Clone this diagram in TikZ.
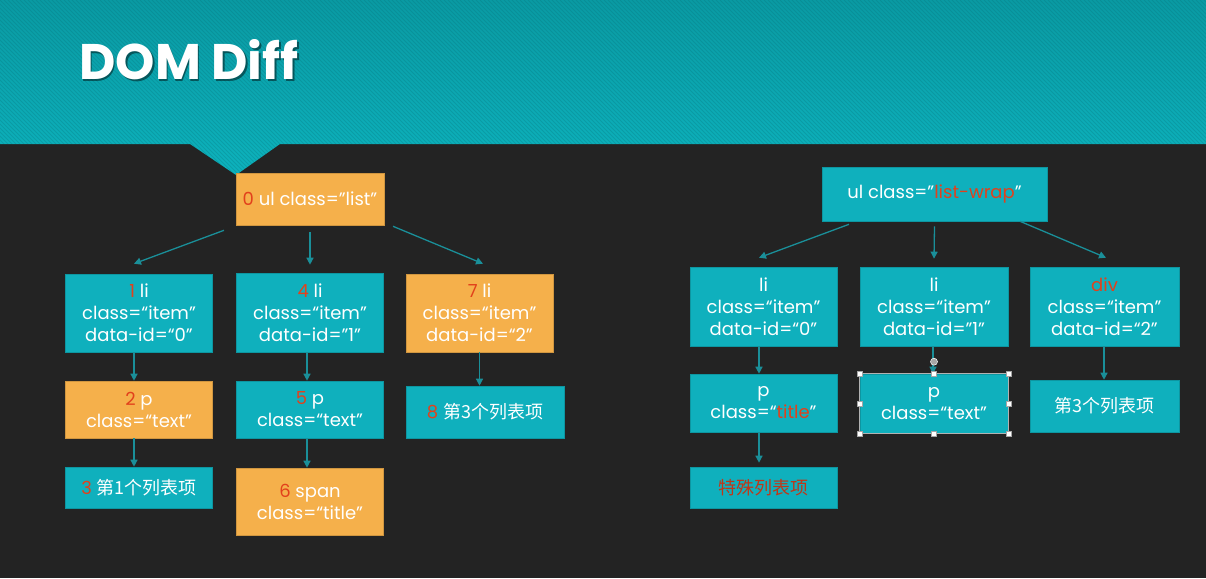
\documentclass[tikz,border=0pt]{standalone}
\usepackage{fontspec}
\setmainfont{Poppins}
\newfontfamily\cjk{Noto Sans CJK SC}
\usetikzlibrary{calc,arrows.meta}

\definecolor{bgdark}{HTML}{232323}
\definecolor{boxteal}{HTML}{0FB0BD}
\definecolor{boxorange}{HTML}{F5B04B}
\definecolor{numred}{HTML}{E2411C}
\definecolor{arrowteal}{HTML}{1A8F99}
\definecolor{bandtop}{HTML}{0A9AA3}
\definecolor{bandbot}{HTML}{0DB3BE}

\newcommand{\rednum}[1]{\textcolor{numred}{#1}}

\tikzset{
  box/.style={rectangle, inner sep=0pt, align=center, text=white,
    font=\fontsize{18}{22}\selectfont},
  tealbox/.style={box, fill=boxteal, draw=boxteal!85!black, line width=0.6pt},
  orangebox/.style={box, fill=boxorange, draw=boxorange!85!black, line width=0.6pt},
  link/.style={draw=arrowteal, line width=1.3pt,
    -{Triangle[length=7pt,width=7pt]}},
  handle/.style={draw=gray!70, fill=white, line width=0.4pt,
    minimum size=5pt, inner sep=0pt, rectangle},
}

\begin{document}
\begin{tikzpicture}[x=1pt,y=-1pt]
  % page background
  \fill[bgdark] (0,0) rectangle (1206,578);
  \useasboundingbox (0,0) rectangle (1206,578);

  % striped header band with its pointer
  \begin{scope}
    \clip (0,0) -- (1206,0) -- (1206,144) -- (280,144) -- (236,175)
      -- (190,144) -- (0,144) -- cycle;
    \shade[top color=bandtop, bottom color=bandbot] (0,0) rectangle (1206,176);
    \foreach \i in {-180,-176,...,1210}
      \draw[bandtop!70!black, opacity=0.25, line width=1pt]
        (\i,0) -- ({\i+180},180);
  \end{scope}

  % title
  \node[font=\fontsize{50}{60}\selectfont\bfseries, text=black, opacity=0.45]
    (titleshadow) at (190.5,61.5) {DOM Diff};
  \node[font=\fontsize{50}{60}\selectfont\bfseries, text=white]
    (title) at (189,60) {DOM Diff};

  % ---------- left tree ----------
  \node[orangebox, minimum width=148pt, minimum height=52pt] (n0) at (310,199)
    {\rednum{0} ul class="list"};
  \node[tealbox, minimum width=147pt, minimum height=78pt] (n1) at (139,313)
    {\rednum{1} li\\class=“item"\\data-id=“0"};
  \node[tealbox, minimum width=147pt, minimum height=79pt] (n4) at (310,312.5)
    {\rednum{4} li\\class=“item"\\data-id="1"};
  \node[orangebox, minimum width=147pt, minimum height=78pt] (n7) at (479.5,313)
    {\rednum{7} li\\class=“item"\\data-id=“2"};
  \node[orangebox, minimum width=147pt, minimum height=57pt] (n2) at (139,409.5)
    {\rednum{2} p\\class=“text"};
  \node[tealbox, minimum width=147pt, minimum height=57pt] (n5) at (310,409.5)
    {\rednum{5} p\\class=“text"};
  \node[tealbox, minimum width=158pt, minimum height=52pt] (n8) at (485,412)
    {\rednum{8} {\cjk 第3个列表项}};
  \node[tealbox, minimum width=147pt, minimum height=41pt] (n3) at (139,487.5)
    {\rednum{3} {\cjk 第1个列表项}};
  \node[orangebox, minimum width=147pt, minimum height=67pt] (n6) at (310,501.5)
    {\rednum{6} span\\class=“title"};

  \draw[link] ($(n0.south)+(-86,5)$) -- ($(n1.north)+(-5,-10)$);
  \draw[link] ($(n0.south)+(0,7)$) -- ($(n4.north)+(0,-8)$);
  \draw[link] ($(n0.south)+(83,1)$) -- ($(n7.north)+(3.5,-10)$);
  \draw[link] ($(n1.south)+(-5,0)$) -- ($(n2.north)+(-5,0)$);
  \draw[link] ($(n2.south)+(-5,0)$) -- ($(n3.north)+(-5,0)$);
  \draw[link] ($(n4.south)+(-3,0)$) -- ($(n5.north)+(-3,0)$);
  \draw[link] ($(n5.south)+(-3,0)$) -- ($(n6.north)+(-3,0)$);
  \draw[link] (n7.south) -- ($(n8.north)+(-5.5,0)$);

  % ---------- right tree ----------
  \node[tealbox, minimum width=225pt, minimum height=54pt] (r0) at (934.5,194)
    {ul class="\textcolor{numred}{list-wrap}"};
  \node[tealbox, minimum width=147pt, minimum height=79pt] (r1) at (763.5,306.5)
    {li\\class=“item"\\data-id=“0"};
  \node[tealbox, minimum width=148pt, minimum height=79pt] (r2) at (934,306.5)
    {li\\class=“item"\\data-id="1"};
  \node[tealbox, minimum width=149pt, minimum height=79pt] (r3) at (1104.5,306.5)
    {\textcolor{numred}{div}\\class=“item"\\data-id=“2"};
  \node[tealbox, minimum width=147pt, minimum height=58pt] (r4) at (763.5,403)
    {p\\class=“\textcolor{numred}{title}"};
  \node[tealbox, minimum width=148pt, minimum height=59pt] (r5) at (934,403.5)
    {p\\class=“text"};
  \node[tealbox, minimum width=149pt, minimum height=52pt] (r6) at (1104.5,406)
    {\cjk 第3个列表项};
  \node[tealbox, minimum width=147pt, minimum height=41pt] (r7) at (763.5,487.5)
    {\cjk\color{numred!85!black} 特殊列表项};

  \draw[link] ($(r0.south)+(-85.5,3)$) -- ($(r1.north)+(-4.5,-9)$);
  \draw[link] ($(r0.south)+(0,5)$) -- ($(r2.north)+(0,-8)$);
  \draw[link] ($(r0.south)+(85.5,0)$) -- ($(r3.north)+(1.5,-9)$);
  \draw[link] ($(r1.south)+(-4.5,0)$) -- ($(r4.north)+(-4.5,0)$);
  \draw[link] ($(r2.south)+(-1,0)$) -- ($(r5.north)+(-1,0)$);
  \draw[link] ($(r3.south)+(-0.5,0)$) -- ($(r6.north)+(-0.5,0)$);
  \draw[link] ($(r4.south)+(-4.5,0)$) -- ($(r7.north)+(-4.5,-4)$);

  % selection frame on the edited box
  \draw[gray!60, line width=0.5pt] (r5.north west) rectangle (r5.south east);
  \foreach \a/\nm in {north west/hnw, north/hn, north east/hne, east/he,
                      south east/hse, south/hs, south west/hsw, west/hw}
    \node[handle] (\nm) at (r5.\a) {};
  \node[circle, draw=white, fill=gray!70, line width=0.5pt, minimum size=7pt,
    inner sep=0pt] (hrot) at ($(r5.north)+(0,-12)$) {};
\end{tikzpicture}
\end{document}
